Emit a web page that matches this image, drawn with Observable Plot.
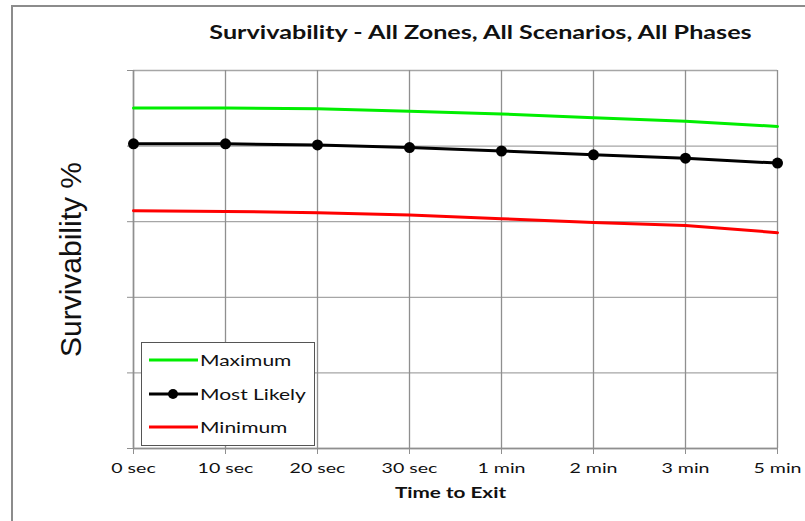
<!DOCTYPE html>
<html>
<head>
<meta charset="utf-8">
<script src="https://cdn.jsdelivr.net/npm/d3@7"></script>
<script src="https://cdn.jsdelivr.net/npm/@observablehq/plot@0.6"></script>
<style>
  html, body { margin: 0; padding: 0; background: #fff; }
  #wrap { position: relative; width: 805px; height: 521px; overflow: hidden; }
  #frame { position: absolute; left: 11px; top: 5px; width: 820px; height: 540px;
           border-left: 2px solid #8c8c8c; border-top: 2px solid #8c8c8c; pointer-events: none; }
  #legend { position: absolute; left: 141px; top: 342px; width: 174px; height: 104px;
            border: 1.5px solid #555; background: #fff; box-sizing: border-box;
            font-family: Lato, sans-serif; font-size: 15px; color: #111; }
  .item { position: absolute; left: 7px; height: 22px; display: flex; align-items: center; }
  .item svg { margin-right: 2px; }
  .item span { display: inline-block; transform: scaleX(1.4); transform-origin: left center; }
</style>
</head>
<body>
<div id="wrap">
  <div id="chart"></div>
  <div id="frame"></div>
  <div id="legend"></div>
</div>
<script>
const categories = ["0 sec", "10 sec", "20 sec", "30 sec", "1 min", "2 min", "3 min", "5 min"];
const maximum    = [90.1, 90.1, 89.9, 89.2, 88.5, 87.5, 86.6, 85.2];
const mostLikely = [80.6, 80.6, 80.3, 79.6, 78.7, 77.7, 76.8, 75.5];
const minimum    = [62.9, 62.7, 62.4, 61.8, 60.8, 59.8, 59.0, 57.1];
const yTicks     = [0, 20, 40, 60, 80, 100];

const titleText = "Survivability - All Zones, All Scenarios, All Phases";
const xLabel = "Time to Exit";
const yLabel = "Survivability %";

const seriesNames  = ["Maximum", "Most Likely", "Minimum"];
const seriesColors = ["#00ee00", "#000000", "#ff0000"];
const seriesValues = [maximum, mostLikely, minimum];

const rows = seriesNames.flatMap((name, s) =>
  categories.map((c, i) => ({series: name, time: c, value: seriesValues[s][i]})));

const chart = Plot.plot({
  width: 805,
  height: 521,
  marginLeft: 133,
  marginRight: 28,
  marginTop: 70,
  marginBottom: 73,
  style: {fontFamily: "Lato, sans-serif", background: "transparent"},
  x: {type: "point", domain: categories, padding: 0, label: null},
  y: {domain: [0, 100], label: null},
  color: {domain: seriesNames, range: seriesColors},
  marks: [
    Plot.ruleY(yTicks, {stroke: "#a6a6a6", strokeWidth: 1.3}),
    Plot.ruleX(categories, {stroke: "#8f8f8f", strokeWidth: 1.3}),
    Plot.ruleX([categories[0]], {stroke: "#8f8f8f", strokeWidth: 1.5}),
    Plot.ruleY([0], {stroke: "#8f8f8f", strokeWidth: 1.5}),
    Plot.axisY({ticks: yTicks, tickFormat: () => "", tickSize: 6, stroke: "#8f8f8f", label: null}),
    Plot.axisX({tickSize: 6, tickPadding: 9, fontSize: 13.5, stroke: "#8f8f8f", fill: "#111", label: null}),
    Plot.line(rows, {x: "time", y: "value", z: "series", stroke: "series", strokeWidth: 3}),
    Plot.dot(rows.filter(d => d.series === "Most Likely"),
      {x: "time", y: "value", r: 5.5, fill: "#000", stroke: "none"}),
    Plot.text([titleText],
      {frameAnchor: "top", lineAnchor: "middle", dy: -38, dx: 25, fontSize: 19.5, fontWeight: "bold", fill: "#111"}),
    Plot.text([xLabel],
      {frameAnchor: "bottom", lineAnchor: "middle", dy: 45, dx: -5, fontSize: 15, fontWeight: "bold", fill: "#111"}),
    Plot.text([yLabel],
      {frameAnchor: "left", dx: -62, rotate: -90, textAnchor: "middle", fontSize: 30,
       fontFamily: "Liberation Sans, Arial, sans-serif", fill: "#111"})
  ]
});
document.getElementById("chart").appendChild(chart);

// The reference uses a wide Calibri-like face: widen Lato glyphs horizontally.
function widen(el, k) {
  const w = el.getComputedTextLength();
  el.setAttribute("textLength", (w * k).toFixed(1));
  el.setAttribute("lengthAdjust", "spacingAndGlyphs");
}
d3.select(chart).selectAll("text").each(function () {
  const t = this.textContent;
  if (categories.includes(t)) widen(this, 1.45);
  else if (t === titleText) widen(this, 1.29);
  else if (t === xLabel) widen(this, 1.38);
});

const legend = document.getElementById("legend");
const tops = [6, 40, 73];
seriesNames.forEach((name, i) => {
  const it = document.createElement("div");
  it.className = "item";
  it.style.top = tops[i] + "px";
  const dot = name === "Most Likely" ? `<circle cx="24" cy="11" r="5" fill="#000"/>` : "";
  it.innerHTML = `<svg width="49" height="22"><line x1="0" x2="49" y1="11" y2="11" stroke="${seriesColors[i]}" stroke-width="3"/>${dot}</svg><span>${name}</span>`;
  legend.appendChild(it);
});
</script>
</body>
</html>
